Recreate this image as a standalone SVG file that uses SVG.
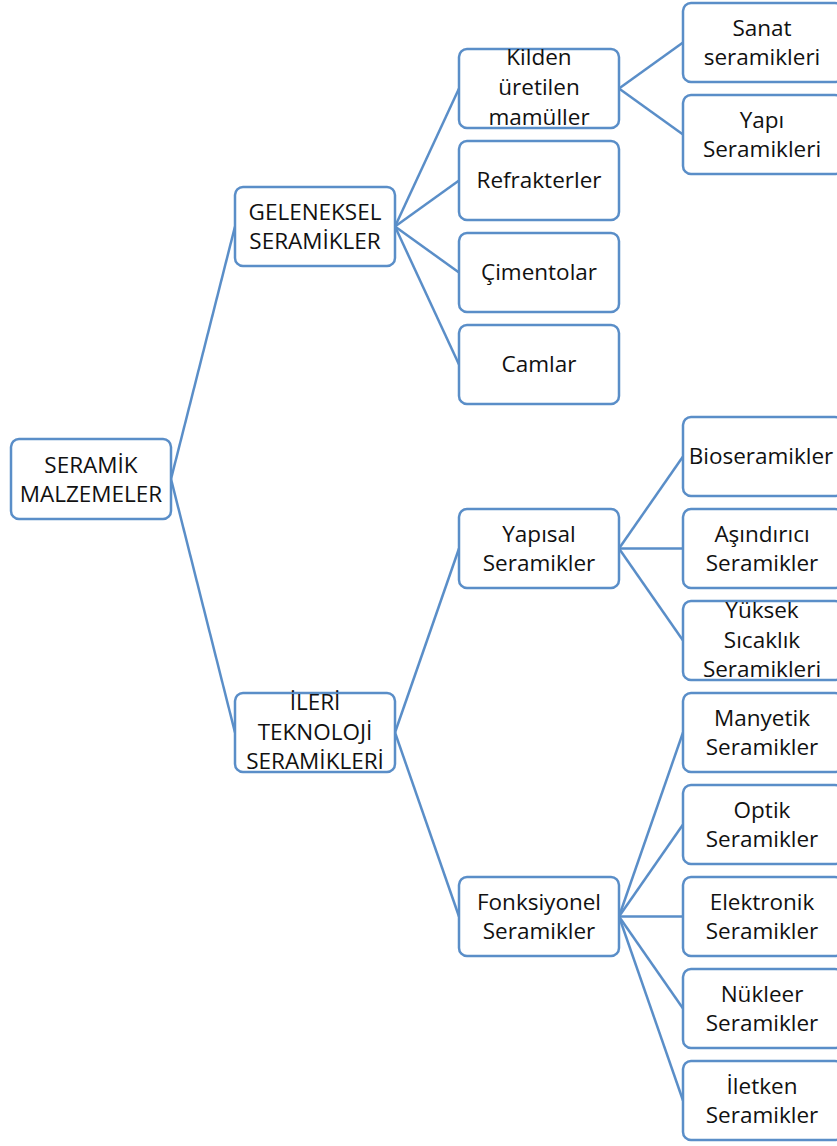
<svg xmlns="http://www.w3.org/2000/svg" width="837" height="1146" viewBox="0 0 837 1146">
<style>
.n rect{fill:#ffffff;stroke:#5a8ec8;stroke-width:2.5}
.n text{font-family:"Open Sans","DejaVu Sans",sans-serif;font-size:22.5px;fill:#111111;text-anchor:middle}
#connectors line{stroke:#5a8ec8;stroke-width:2.5}
</style>
<rect width="837" height="1146" fill="#ffffff"/>
<g id="connectors">
<line x1="171" y1="479" x2="235" y2="226.5"/>
<line x1="171" y1="479" x2="235" y2="732.5"/>
<line x1="395" y1="226.5" x2="459" y2="88.5"/>
<line x1="395" y1="226.5" x2="459" y2="180.5"/>
<line x1="395" y1="226.5" x2="459" y2="272.5"/>
<line x1="395" y1="226.5" x2="459" y2="364.5"/>
<line x1="619" y1="88.5" x2="683" y2="42.5"/>
<line x1="619" y1="88.5" x2="683" y2="134.5"/>
<line x1="395" y1="732.5" x2="459" y2="548.5"/>
<line x1="395" y1="732.5" x2="459" y2="916.5"/>
<line x1="619" y1="548.5" x2="683" y2="456.5"/>
<line x1="619" y1="548.5" x2="683" y2="548.5"/>
<line x1="619" y1="548.5" x2="683" y2="640.5"/>
<line x1="619" y1="916.5" x2="683" y2="732.5"/>
<line x1="619" y1="916.5" x2="683" y2="824.5"/>
<line x1="619" y1="916.5" x2="683" y2="916.5"/>
<line x1="619" y1="916.5" x2="683" y2="1008.5"/>
<line x1="619" y1="916.5" x2="683" y2="1100.5"/>
</g>
<g id="root" class="n"><rect x="11" y="439" width="160" height="80" rx="8"/><text x="91" y="473">SERAMİK</text><text x="91" y="502">MALZEMELER</text></g>
<g id="geleneksel" class="n"><rect x="235" y="187" width="160" height="79" rx="8"/><text x="315" y="220">GELENEKSEL</text><text x="315" y="249">SERAMİKLER</text></g>
<g id="ileri" class="n"><rect x="235" y="693" width="160" height="79" rx="8"/><text x="315" y="710">İLERİ</text><text x="315" y="740">TEKNOLOJİ</text><text x="315" y="769">SERAMİKLERİ</text></g>
<g id="kilden" class="n"><rect x="459" y="49" width="160" height="79" rx="8"/><text x="539" y="65">Kilden</text><text x="539" y="95">üretilen</text><text x="539" y="125">mamüller</text></g>
<g id="refrakterler" class="n"><rect x="459" y="141" width="160" height="79" rx="8"/><text x="539" y="188">Refrakterler</text></g>
<g id="cimentolar" class="n"><rect x="459" y="233" width="160" height="79" rx="8"/><text x="539" y="280">Çimentolar</text></g>
<g id="camlar" class="n"><rect x="459" y="325" width="160" height="79" rx="8"/><text x="539" y="372">Camlar</text></g>
<g id="sanat" class="n"><rect x="683" y="3" width="160" height="79" rx="8"/><text x="762" y="36">Sanat</text><text x="762" y="65">seramikleri</text></g>
<g id="yapi" class="n"><rect x="683" y="95" width="160" height="79" rx="8"/><text x="762" y="128">Yapı</text><text x="762" y="157">Seramikleri</text></g>
<g id="yapisal" class="n"><rect x="459" y="509" width="160" height="79" rx="8"/><text x="539" y="542">Yapısal</text><text x="539" y="571">Seramikler</text></g>
<g id="fonksiyonel" class="n"><rect x="459" y="877" width="160" height="79" rx="8"/><text x="539" y="910">Fonksiyonel</text><text x="539" y="939">Seramikler</text></g>
<g id="bioseramikler" class="n"><rect x="683" y="417" width="160" height="79" rx="8"/><text x="761" y="464">Bioseramikler</text></g>
<g id="asindirici" class="n"><rect x="683" y="509" width="160" height="79" rx="8"/><text x="762" y="542">Aşındırıcı</text><text x="762" y="571">Seramikler</text></g>
<g id="yuksek" class="n"><rect x="683" y="601" width="160" height="79" rx="8"/><text x="762" y="618">Yüksek</text><text x="762" y="648">Sıcaklık</text><text x="762" y="677">Seramikleri</text></g>
<g id="manyetik" class="n"><rect x="683" y="693" width="160" height="79" rx="8"/><text x="762" y="726">Manyetik</text><text x="762" y="755">Seramikler</text></g>
<g id="optik" class="n"><rect x="683" y="785" width="160" height="79" rx="8"/><text x="762" y="818">Optik</text><text x="762" y="847">Seramikler</text></g>
<g id="elektronik" class="n"><rect x="683" y="877" width="160" height="79" rx="8"/><text x="762" y="910">Elektronik</text><text x="762" y="939">Seramikler</text></g>
<g id="nukleer" class="n"><rect x="683" y="969" width="160" height="79" rx="8"/><text x="762" y="1002">Nükleer</text><text x="762" y="1031">Seramikler</text></g>
<g id="iletken" class="n"><rect x="683" y="1061" width="160" height="79" rx="8"/><text x="762" y="1094">İletken</text><text x="762" y="1123">Seramikler</text></g>
</svg>
